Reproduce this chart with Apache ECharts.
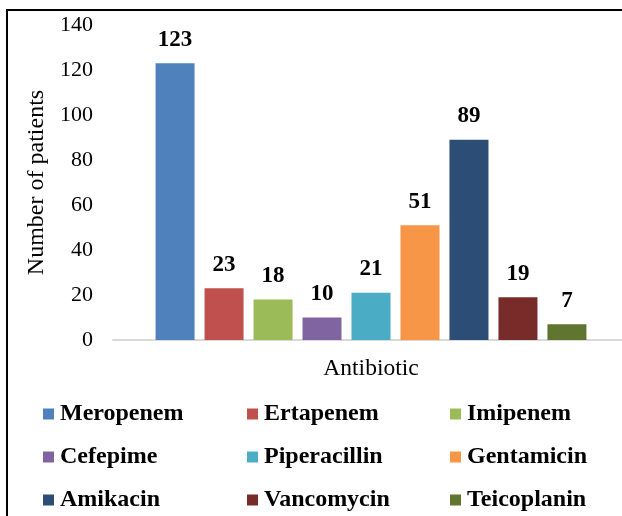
<!DOCTYPE html>
<html>
<head>
<meta charset="utf-8">
<script src="https://cdn.jsdelivr.net/npm/echarts@6/dist/echarts.min.js"></script>
<style>
  html, body { margin: 0; padding: 0; background: #fff; }
  #chart { width: 622px; height: 516px; }
</style>
</head>
<body>
<div id="chart"></div>
<script>
// data
const category = ['Antibiotic'];
const drugs = ['Meropenem', 'Ertapenem', 'Imipenem', 'Cefepime', 'Piperacillin',
    'Gentamicin', 'Amikacin', 'Vancomycin', 'Teicoplanin'];
const patients = [123, 23, 18, 10, 21, 51, 89, 19, 7];
const colors = ['#4F81BD', '#C0504D', '#9BBB59', '#8064A2', '#4BACC6',
    '#F79646', '#2C4D75', '#772C2A', '#5F7530'];
const yTicks = { min: 0, max: 140, interval: 20 };

const serif = '"Liberation Serif", "Times New Roman", serif';

const chart = echarts.init(document.getElementById('chart'));

// one legend per column, 3 rows each
const legendCols = [0, 1, 2].map(function (c) {
    return {
        orient: 'vertical',
        left: [43, 247, 450][c],
        top: 402,
        height: 140,
        padding: 0,
        itemWidth: 11,
        itemHeight: 11,
        itemGap: 19,
        icon: 'rect',
        selectedMode: false,
        textStyle: { fontFamily: serif, fontSize: 24, fontWeight: 'bold', color: '#000', padding: [0, 0, 0, 1] },
        data: [drugs[c], drugs[c + 3], drugs[c + 6]]
    };
});

chart.setOption({
    animation: false,
    graphic: [{
        type: 'rect',
        shape: { x: 7, y: 10, width: 700, height: 600 },
        style: { fill: 'none', stroke: '#000', lineWidth: 2 },
        silent: true
    }],
    legend: legendCols,
    grid: { left: 113, top: 25, width: 516, height: 315, outerBoundsMode: 'none' },
    xAxis: {
        type: 'category',
        data: category,
        name: 'Antibiotic',
        nameLocation: 'middle',
        nameGap: 17,
        nameTextStyle: { fontFamily: serif, fontSize: 23.5, color: '#000' },
        axisLine: { lineStyle: { color: '#d9d9d9', width: 2 } },
        axisTick: { show: false },
        axisLabel: { show: false }
    },
    yAxis: {
        type: 'value',
        min: yTicks.min,
        max: yTicks.max,
        interval: yTicks.interval,
        name: 'Number of patients',
        nameLocation: 'middle',
        nameGap: 59,
        nameTextStyle: { fontFamily: serif, fontSize: 24, color: '#000' },
        axisLine: { show: false },
        axisTick: { show: false },
        splitLine: { show: false },
        axisLabel: { fontFamily: serif, fontSize: 22, color: '#000', margin: 20 }
    },
    series: drugs.map(function (name, i) {
        return {
            name: name,
            type: 'bar',
            barWidth: 39,
            barGap: '25.6%',
            itemStyle: { color: colors[i] },
            label: {
                show: true,
                position: 'top',
                distance: 12,
                fontFamily: serif,
                fontSize: 23,
                fontWeight: 'bold',
                color: '#000'
            },
            data: [patients[i]]
        };
    })
});
</script>
</body>
</html>
